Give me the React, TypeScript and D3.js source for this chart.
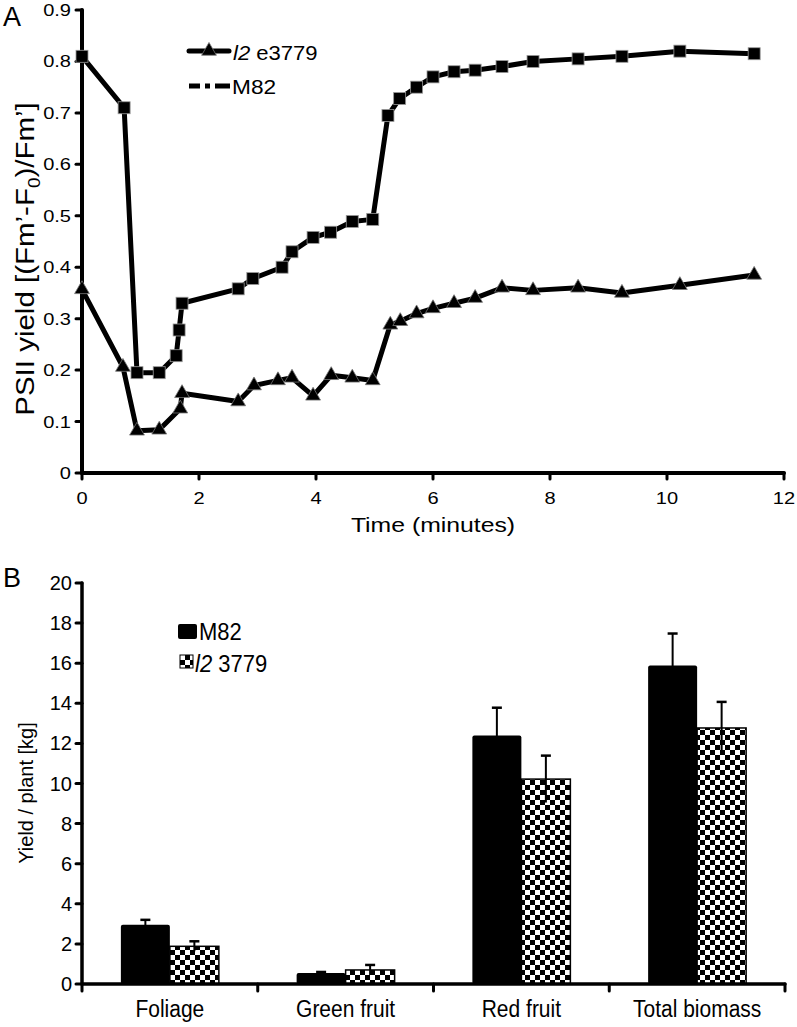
import React from 'react';
import * as d3 from 'd3';

// Panel A data
const timeM82 = [0, 0.72, 0.94, 1.32, 1.61, 1.66, 1.71, 2.67, 2.92, 3.42, 3.59, 3.95, 4.25, 4.62, 4.97, 5.23, 5.43, 5.72, 6.0, 6.36, 6.72, 7.18, 7.71, 8.48, 9.23, 10.22, 11.49];
const yieldM82 = [0.81, 0.71, 0.195, 0.195, 0.228, 0.278, 0.33, 0.358, 0.378, 0.4, 0.43, 0.458, 0.468, 0.489, 0.493, 0.695, 0.728, 0.75, 0.77, 0.78, 0.783, 0.79, 0.8, 0.805, 0.81, 0.82, 0.815];
const timeL2 = [0, 0.7, 0.94, 1.32, 1.68, 1.71, 2.67, 2.94, 3.35, 3.59, 3.95, 4.26, 4.62, 4.97, 5.27, 5.44, 5.72, 6.0, 6.36, 6.72, 7.18, 7.71, 8.48, 9.23, 10.22, 11.49];
const yieldL2 = [0.357, 0.206, 0.082, 0.084, 0.125, 0.155, 0.139, 0.17, 0.18, 0.185, 0.15, 0.19, 0.185, 0.18, 0.288, 0.295, 0.31, 0.32, 0.33, 0.34, 0.36, 0.355, 0.36, 0.35, 0.365, 0.385];
const xTicksA = [0, 2, 4, 6, 8, 10, 12];
const yTicksA = [0, 0.1, 0.2, 0.3, 0.4, 0.5, 0.6, 0.7, 0.8, 0.9];

// Panel B data
const categories = ['Foliage', 'Green fruit', 'Red fruit', 'Total biomass'];
const m82Yield = [2.95, 0.55, 12.4, 15.88];
const m82Err = [0.25, 0.05, 1.38, 1.6];
const l2Yield = [1.88, 0.7, 10.22, 12.77];
const l2Err = [0.25, 0.25, 1.17, 1.3];
const yTicksB = [0, 2, 4, 6, 8, 10, 12, 14, 16, 18, 20];

const FONT = "'Liberation Sans', Arial, sans-serif";
const SX = 1.18;

export default function App() {
  const xA = d3.scaleLinear().domain([0, 12]).range([82, 784]);
  const yA = d3.scaleLinear().domain([0, 0.9]).range([473, 10]);
  const line = d3.line<[number, number]>().x(d => xA(d[0])).y(d => yA(d[1]));
  const m82Pts: [number, number][] = timeM82.map((t, i) => [t, yieldM82[i]]);
  const l2Pts: [number, number][] = timeL2.map((t, i) => [t, yieldL2[i]]);
  const tri = d3.symbol().type(d3.symbolTriangle).size(95)() as string;

  const xB = d3.scaleBand().domain(categories).range([82, 785]).padding(0);
  const yB = d3.scaleLinear().domain([0, 20]).range([984, 583]);
  const bw = 49;

  return (
    <svg width={797} height={1027} style={{ position: 'absolute', left: 0, top: 0, background: '#fff' }} fontFamily={FONT}>
      <defs>
        <pattern id="checker" patternUnits="userSpaceOnUse" width={10} height={10}>
          <rect width={10} height={10} fill="#fff" />
          <rect x={0} y={0} width={5} height={5} fill="#000" />
          <rect x={5} y={5} width={5} height={5} fill="#000" />
        </pattern>
      </defs>
      <rect width={797} height={1027} fill="#fff" />

      {/* ---------- Panel A ---------- */}
      <text x={3} y={26} fontSize={27}>A</text>
      <line x1={xA(0)} x2={xA(0)} y1={yA(0)} y2={yA(0.9)} stroke="#000" strokeWidth={4} strokeLinecap="round" />
      <line x1={xA(0)} x2={xA(12)} y1={yA(0)} y2={yA(0)} stroke="#000" strokeWidth={4} strokeLinecap="round" />
      {yTicksA.map(v => (
        <g key={'ya' + v}>
          <line x1={xA(0) - 6} x2={xA(0)} y1={yA(v)} y2={yA(v)} stroke="#000" strokeWidth={3} strokeLinecap="round" />
          <text transform={`translate(71,${yA(v) + 6}) scale(${SX},1)`} fontSize={17} textAnchor="end">{v === 0 ? '0' : v.toFixed(1)}</text>
        </g>
      ))}
      {xTicksA.map(v => (
        <g key={'xa' + v}>
          <line x1={xA(v)} x2={xA(v)} y1={yA(0)} y2={yA(0) + 6} stroke="#000" strokeWidth={3} strokeLinecap="round" />
          <text transform={`translate(${xA(v)},504) scale(${SX},1)`} fontSize={17} textAnchor="middle">{v}</text>
        </g>
      ))}
      <text transform={`translate(433,532) scale(${SX},1)`} fontSize={21} textAnchor="middle">Time (minutes)</text>
      <text transform={`translate(34,259) rotate(-90) scale(${SX},1)`} fontSize={25} textAnchor="middle">
        PSII yield [(Fm’-F<tspan fontSize={16} dy={6}>0</tspan><tspan dy={-6}>)/Fm’]</tspan>
      </text>

      {/* series */}
      <path d={line(m82Pts) as string} fill="none" stroke="#000" strokeWidth={5} strokeLinejoin="round" />
      <path d={line(l2Pts) as string} fill="none" stroke="#000" strokeWidth={5} strokeLinejoin="round" />
      {m82Pts.map((p, i) => (
        <rect key={'sq' + i} x={xA(p[0]) - 6} y={yA(p[1]) - 6} width={12} height={12} fill="#000" stroke="#999" strokeWidth={0.8} />
      ))}
      {l2Pts.map((p, i) => (
        <path key={'tr' + i} d={tri} transform={`translate(${xA(p[0])},${yA(p[1])})`} fill="#000" stroke="#777" strokeWidth={0.8} />
      ))}

      {/* legend A */}
      <line x1={189} x2={229} y1={51} y2={51} stroke="#000" strokeWidth={5} strokeLinecap="round" />
      <path d={tri} transform="translate(209,51)" fill="#000" stroke="#777" strokeWidth={0.8} />
      <text transform={`translate(233,60) scale(1.05,1)`} fontSize={21}><tspan fontStyle="italic">l2</tspan> e3779</text>
      <line x1={189} x2={230} y1={86} y2={86} stroke="#000" strokeWidth={5} strokeDasharray="11 5 5 5 20" />
      <text transform={`translate(232,94) scale(1.08,1)`} fontSize={21}>M82</text>

      {/* ---------- Panel B ---------- */}
      <text x={3} y={587} fontSize={27}>B</text>
      {categories.map((c, i) => {
        const x0 = (xB(c) as number) + xB.bandwidth() / 2;
        return (
          <g key={c}>
            <rect x={x0 - bw} y={yB(m82Yield[i])} width={bw} height={yB(0) - yB(m82Yield[i])} fill="#000" rx={2} />
            <rect x={x0} y={yB(l2Yield[i])} width={bw} height={yB(0) - yB(l2Yield[i])} fill="url(#checker)" stroke="#000" strokeWidth={1.5} />
            <line x1={x0 - bw / 2} x2={x0 - bw / 2} y1={yB(m82Yield[i] - m82Err[i])} y2={yB(m82Yield[i] + m82Err[i])} stroke="#000" strokeWidth={2} />
            <line x1={x0 - bw / 2 - 5} x2={x0 - bw / 2 + 5} y1={yB(m82Yield[i] + m82Err[i])} y2={yB(m82Yield[i] + m82Err[i])} stroke="#000" strokeWidth={2.5} />
            <line x1={x0 + bw / 2} x2={x0 + bw / 2} y1={yB(l2Yield[i] - l2Err[i])} y2={yB(l2Yield[i] + l2Err[i])} stroke="#000" strokeWidth={2} />
            <line x1={x0 + bw / 2 - 5} x2={x0 + bw / 2 + 5} y1={yB(l2Yield[i] + l2Err[i])} y2={yB(l2Yield[i] + l2Err[i])} stroke="#000" strokeWidth={2.5} />
            <text transform={`translate(${x0},1017) scale(1,1.1)`} fontSize={21} textAnchor="middle">{c}</text>
          </g>
        );
      })}
      <line x1={82} x2={82} y1={yB(0)} y2={yB(20)} stroke="#000" strokeWidth={3.5} strokeLinecap="round" />
      <line x1={82} x2={785} y1={yB(0)} y2={yB(0)} stroke="#000" strokeWidth={3.5} strokeLinecap="round" />
      {yTicksB.map(v => (
        <g key={'yb' + v}>
          <line x1={76} x2={82} y1={yB(v)} y2={yB(v)} stroke="#000" strokeWidth={3} strokeLinecap="round" />
          <text x={72} y={yB(v) + 7} fontSize={20} textAnchor="end">{v}</text>
        </g>
      ))}
      {[0, 1, 2, 3, 4].map(i => {
        const x = 82 + i * xB.bandwidth();
        return <line key={'xb' + i} x1={x} x2={x} y1={yB(0)} y2={yB(0) + 7} stroke="#000" strokeWidth={3} strokeLinecap="round" />;
      })}
      <text transform="translate(33,793) rotate(-90)" fontSize={20} textAnchor="middle">Yield / plant [kg]</text>

      {/* legend B */}
      <rect x={178} y={624} width={19} height={15} fill="#000" rx={2} />
      <text transform="translate(199,640) scale(1,1.1)" fontSize={22}>M82</text>
      <rect x={180} y={655} width={13} height={13} fill="url(#checker)" stroke="#000" strokeWidth={1} />
      <text transform="translate(195,672) scale(1,1.1)" fontSize={22}><tspan fontStyle="italic">l2</tspan> 3779</text>
    </svg>
  );
}
